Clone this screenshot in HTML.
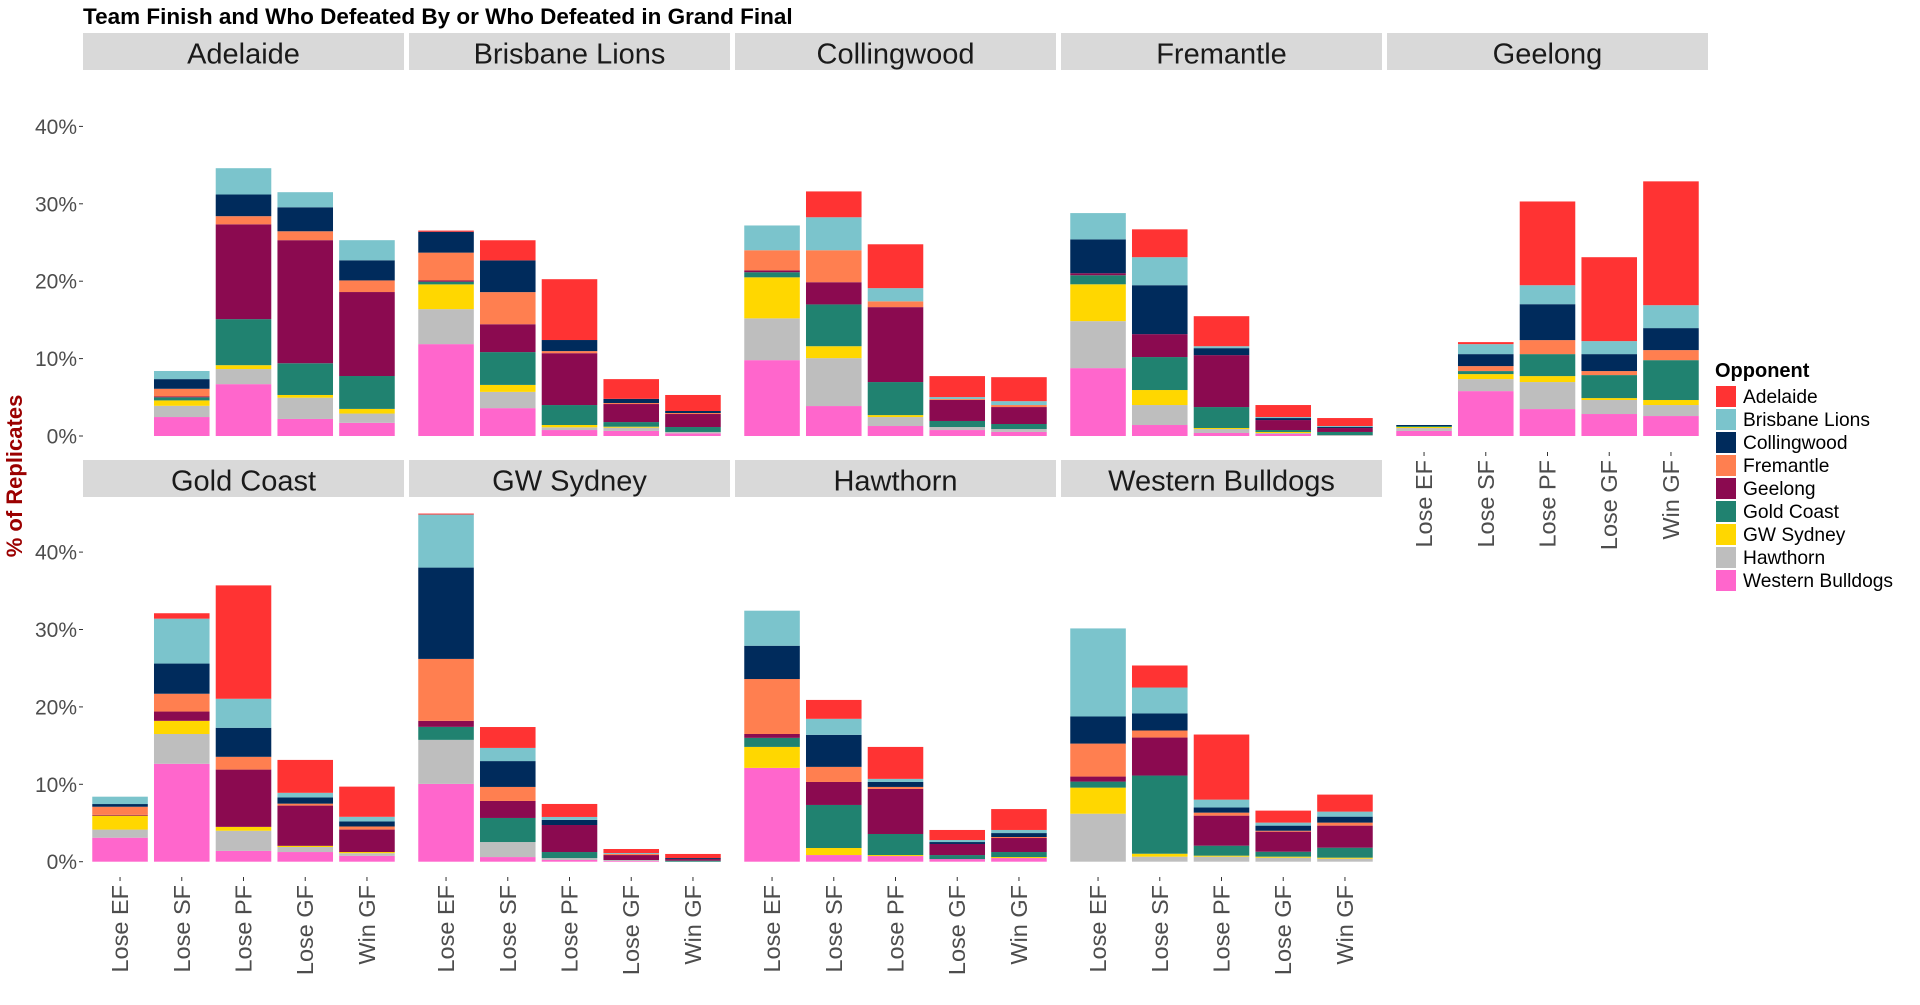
<!DOCTYPE html>
<html><head><meta charset="utf-8"><style>
html,body{margin:0;padding:0;background:#fff;}
svg{display:block;font-family:"Liberation Sans",Arial,sans-serif;}
</style></head><body>
<svg id="chart" width="1920" height="1005" viewBox="0 0 1920 1005">
<text x="83" y="24" font-size="22.5" font-weight="bold" fill="#000">Team Finish and Who Defeated By or Who Defeated in Grand Final</text>
<text transform="translate(22,476) rotate(-90)" text-anchor="middle" font-size="22" font-weight="bold" fill="#9B0000">% of Replicates</text>
<g id="legend"></g>
</svg>
<script>
const teams = ["Adelaide","Brisbane Lions","Collingwood","Fremantle","Geelong","Gold Coast","GW Sydney","Hawthorn","Western Bulldogs"];
const categories = ["Lose EF","Lose SF","Lose PF","Lose GF","Win GF"];
const opponents = ["Adelaide","Brisbane Lions","Collingwood","Fremantle","Geelong","Gold Coast","GW Sydney","Hawthorn","Western Bulldogs"];
const yTicks = [0,10,20,30,40];
const yTickLabels = ["0%","10%","20%","30%","40%"];
// values per opponent: 5 categories for each team, teams in order above
const adelaide = [0,0,0,0,0, .15,2.6,7.86,2.55,2.07, 0,3.34,5.67,2.71,3.1, 0,3.6,3.88,1.55,1.03, 0,.26,10.82,10.84,16.0, 0,.7,14.65,4.25,3.9, .13,2.7,1.68,.52,.53, 0,2.44,4.13,1.3,2.7, 0,2.85,8.41,1.55,2.2];
const brisbaneLions = [0,1.05,3.4,1.95,2.6, 0,0,0,0,0, 3.2,4.26,1.7,.26,.5, 3.4,3.62,.25,.13,.13, 0,1.29,2.45,1.68,2.96, .95,5.8,3.75,.6,.6, 6.85,1.7,.38,.12,0, 4.53,2.07,.4,.26,.4, 11.38,3.35,1.02,.39,.65];
const collingwood = [0,1.25,2.8,3.1,2.6, 2.7,4.1,1.43,.54,.26, 0,0,0,0,0, 4.37,6.32,.9,.26,.13, .13,1.55,4.64,2.19,2.84, .35,3.9,3.75,.8,.65, 11.8,3.34,.66,0,.13, 4.3,4.14,.64,.25,.51, 3.5,2.2,.66,.66,.77];
const fremantle = [0,1.0,1.05,1.15,1.5, 3.6,4.15,.27,.13,.13, 2.6,4.13,.75,.12,.26, 0,0,0,0,0, 0,.64,1.81,.52,1.3, 1.05,2.3,1.65,.25,.4, 8.0,1.81,0,.14,0, 7.1,1.95,.26,0,.13, 4.26,.91,.39,.12,.39];
const geelong = [0,.1,12.25,15.9,10.85, .15,3.6,6.7,2.33,1.68, .24,2.87,9.68,2.71,2.19, .26,2.96,6.71,1.29,.51, 0,0,0,0,0, .1,1.2,7.4,5.2,2.9, .78,2.2,3.49,.64,.21, .5,2.97,5.82,1.43,1.81, .65,4.91,3.88,2.59,2.85];
const goldCoast = [0,.4,5.95,4.1,4.25, .35,4.24,2.58,.6,.64, .66,5.4,4.27,.78,.65, 1.17,4.26,2.71,.25,.39, .13,.39,2.84,2.97,5.15, 0,0,0,0,0, 1.68,3.11,.78,0,.13, 1.17,5.56,2.72,.52,.65, .78,10.1,1.29,.64,1.29];
const gwSydney = [0,.7,.5,.35,.6, 3.2,.9,.3,.12,0, 5.3,1.54,.25,0,0, 4.76,1.94,.13,.13,0, .13,.65,.77,.25,.65, 1.8,1.7,.5,.15,.15, 0,0,0,0,0, 2.71,.91,.13,0,.13, 3.37,.38,.13,.13,.13];
const hawthorn = [0,1.45,1.95,2.75,1.2, 4.52,2.1,.35,.43,.18, 5.4,6.19,1.16,.39,.38, 6.07,2.58,.51,.13,.13, .38,1.55,3.49,1.81,1.42, 1.05,3.85,2.6,.65,.35, 5.69,1.94,.25,.13,0, 0,0,0,0,0, 6.2,.65,.65,.52,.39];
const westernBulldogs = [0,2.45,6.7,2.2,1.7, 11.87,3.6,.77,.65,.34, 9.8,3.87,1.29,.77,.52, 8.77,1.42,.39,.26,0, .65,5.8,3.48,2.84,2.58, 3.1,12.65,1.4,1.25,.75, 10.05,.6,.22,.09,0, 12.12,.86,.73,.34,.47, 0,0,0,0,0];

const colors = ["#FF3333","#7BC4CC","#002B5C","#FF7F50","#8B0A50","#208270","#FFD700","#BEBEBE","#FF66CC"];
const series = [adelaide,brisbaneLions,collingwood,fremantle,geelong,goldCoast,gwSydney,hawthorn,westernBulldogs];
const NS = "http://www.w3.org/2000/svg";
const svg = document.getElementById('chart');
function mk(tag, attrs, parent){const e=document.createElementNS(NS,tag);for(const k in attrs)e.setAttribute(k,attrs[k]);(parent||svg).appendChild(e);return e;}
const panelW = 321, pitch = 326, left0 = 83;
const rowZero = [436, 861.7], rowStrip = [33, 460], pxPerPct = 7.74;
const unit = panelW / 5.2;
function xCenter(col, i){ return left0 + col*pitch + (0.6 + i)*unit; }
function yPos(row, v){ return rowZero[row] - v*pxPerPct; }

teams.forEach((team, t) => {
  const row = t < 5 ? 0 : 1, col = t < 5 ? t : t - 5;
  const px = left0 + col*pitch;
  const g = mk('g', {});
  
  
  const strip = mk('rect', {x:px, y:rowStrip[row], width:panelW, height:37, fill:'#D9D9D9'}, g);
  
  
  const st = mk('text', {x:px+panelW/2, y:rowStrip[row]+30.5, 'text-anchor':'middle', 'font-size':29, fill:'#1A1A1A'}, g);
  
  
  st.textContent = team;
  categories.forEach((cat, i) => {
    let cum = 0;
    const xc = xCenter(col, i), w = unit*0.9;
    for (let s = 8; s >= 0; s--) {
      const v = series[s][t*5 + i];
      if (v <= 0) continue;
      const y1 = yPos(row, cum), y2 = yPos(row, cum + v);
      const r = mk('rect', {x:xc - w/2, y:y2, width:w, height:Math.max(0,y1-y2), fill:colors[s]}, g);
      
      
      cum += v;
    }
  });
  if (row === 1 || t === 4) {
    const base = row === 1 ? 885 : 460;
    categories.forEach((cat, i) => {
      const xc = xCenter(col, i);
      const tk = mk('line', {x1:xc, x2:xc, y1:base-8, y2:base-4, stroke:'#333', 'stroke-width':1}, g);
      
      
      const lt = mk('text', {transform:`translate(${xc+8},${base}) rotate(-90)`, 'text-anchor':'end', 'font-size':23.5, fill:'#4D4D4D'}, g);
      
      
      lt.textContent = cat;
    });
  }
});
[0,1].forEach(row => {
  yTicks.forEach((v, k) => {
    const y = yPos(row, v);
    const tk = mk('line', {x1:79, x2:83, y1:y, y2:y, stroke:'#333', 'stroke-width':1});
    
    
    const lt = mk('text', {x:77, y:y+7.5, 'text-anchor':'end', 'font-size':21, fill:'#4D4D4D'});
    
    
    lt.textContent = yTickLabels[k];
  });
});
const lg = document.getElementById('legend');
const lt = mk('text', {x:1715, y:377, 'font-size':20, 'font-weight':'bold', fill:'#000'}, lg);


lt.textContent = 'Opponent';
opponents.forEach((o, i) => {
  const y = 386 + i*23;
  const k = mk('rect', {x:1716, y:y, width:20, height:21, fill:colors[i]}, lg);
  
  
  const tx = mk('text', {x:1743, y:y+17, 'font-size':19.2, fill:'#000'}, lg);
  
  
  tx.textContent = o;
});
</script>
</body></html>
